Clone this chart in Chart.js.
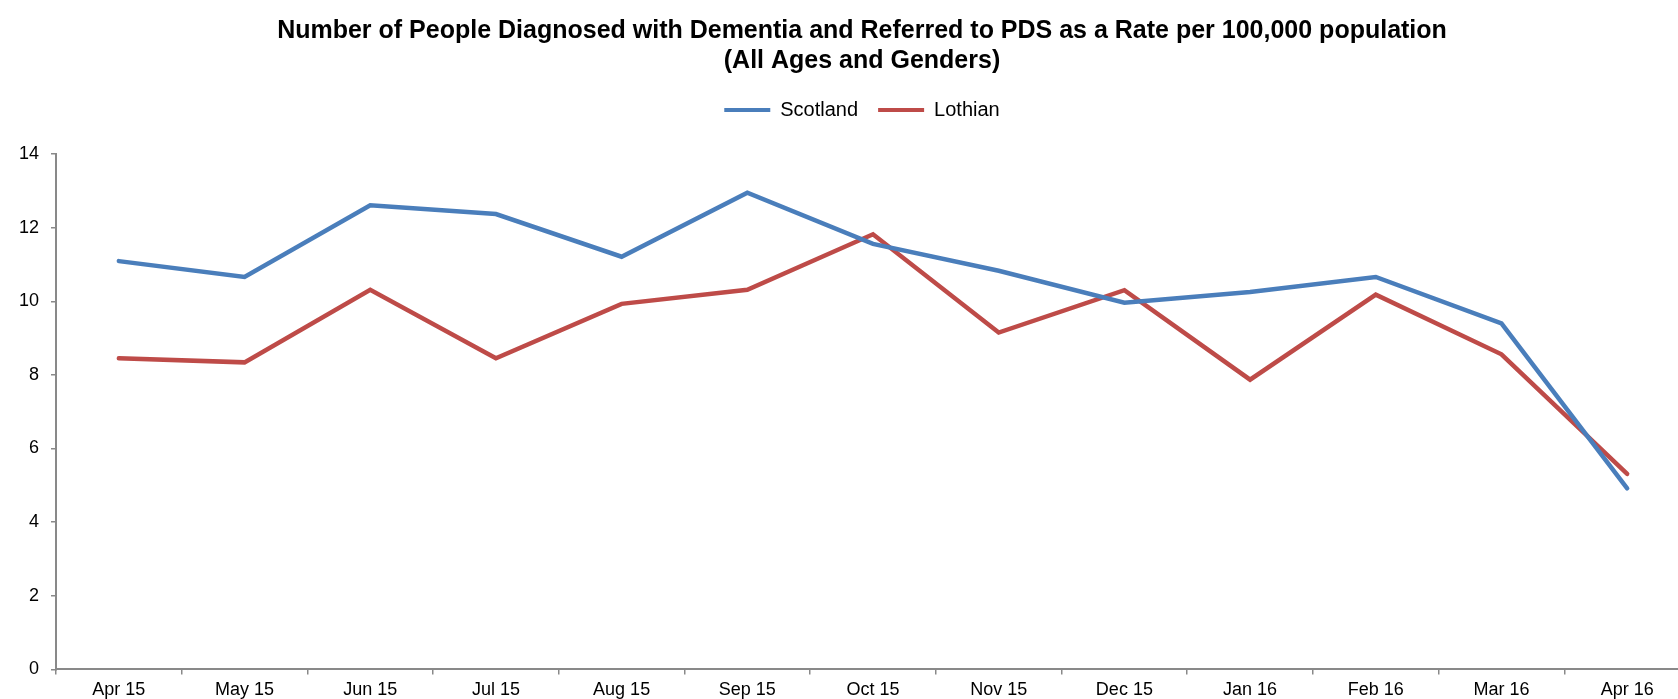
<!DOCTYPE html>
<html>
<head>
<meta charset="utf-8">
<script src="https://cdn.jsdelivr.net/npm/chart.js@4"></script>
<style>
  html, body { margin: 0; padding: 0; background: #fff; overflow: hidden; }
  #wrap { width: 1724px; height: 712px; }
</style>
</head>
<body>
<div id="wrap"><canvas id="pdsChart" width="1724" height="712"></canvas></div>
<script>
// ── Data
const months   = ['Apr 15', 'May 15', 'Jun 15', 'Jul 15', 'Aug 15', 'Sep 15', 'Oct 15',
                  'Nov 15', 'Dec 15', 'Jan 16', 'Feb 16', 'Mar 16', 'Apr 16'];
const scotland = [11.09, 10.66, 12.61, 12.37, 11.21, 12.95, 11.56, 10.83, 9.96, 10.25, 10.66, 9.40, 4.92];
const lothian  = [8.45, 8.34, 10.31, 8.45, 9.93, 10.31, 11.82, 9.15, 10.30, 7.87, 10.18, 8.56, 5.31];

const titleLines = [
    'Number of People Diagnosed with Dementia and Referred to PDS as a Rate per 100,000 population',
    '(All Ages and Genders)'
];

// ── Styles
const BLUE  = '#4a7ebb';
const RED   = '#be4b48';
const AXIS  = '#898989';
const FONT  = 'Liberation Sans, Arial, sans-serif';

function series(label, data, color) {
    return {
        label,
        data,
        borderColor:     color,
        backgroundColor: color,
        borderWidth:     4.5,
        borderCapStyle:  'round',
        pointRadius:     0,
        tension:         0,
        fill:            false
    };
}

// extra room under the legend, before the plot starts
const legendGap = {
    id: 'legendGap',
    beforeLayout(chart) {
        const legend = chart.legend;
        if (!legend || legend._gapPatched) return;
        const fit = legend.fit;
        legend.fit = function () {
            fit.call(this);
            this.height += 24;
        };
        legend._gapPatched = true;
    }
};

new Chart(document.getElementById('pdsChart'), {
    type: 'line',
    data: {
        labels: months,
        datasets: [
            series('Scotland', scotland, BLUE),
            series('Lothian',  lothian,  RED)
        ]
    },
    plugins: [legendGap],
    options: {
        responsive: false,
        animation:  false,
        layout: { padding: { top: 0, bottom: 6, left: 0, right: 0 } },
        plugins: {
            title: {
                display: true,
                text:    titleLines,
                color:   '#000',
                font:    { family: FONT, size: 25, weight: 'bold', lineHeight: 1.2 },
                padding: { top: 16, bottom: 4 }
            },
            legend: {
                position: 'top',
                labels: {
                    color:     '#000',
                    font:      { family: FONT, size: 20 },
                    boxWidth:  46,
                    boxHeight: 4,
                    padding:   20,
                    generateLabels: (chart) => chart.data.datasets.map((ds, i) => ({
                        text:         ds.label,
                        fillStyle:    ds.borderColor,
                        strokeStyle:  ds.borderColor,
                        lineWidth:    0,
                        datasetIndex: i,
                        hidden:       !chart.isDatasetVisible(i)
                    }))
                }
            },
            tooltip: { enabled: false }
        },
        scales: {
            x: {
                offset: true,
                grid:   { offset: true, drawOnChartArea: false, drawTicks: true, tickLength: 5, color: AXIS, lineWidth: 1.5 },
                border: { display: true, color: AXIS, width: 2 },
                ticks:  { color: '#000', font: { family: FONT, size: 18 }, padding: 5, maxRotation: 0, autoSkip: false }
            },
            y: {
                min: 0,
                max: 14,
                grid:   { drawOnChartArea: false, drawTicks: true, tickLength: 5, color: AXIS, lineWidth: 1.5 },
                border: { display: true, color: AXIS, width: 2 },
                ticks:  { stepSize: 2, color: '#000', font: { family: FONT, size: 18 }, padding: 12 },
                afterFit: (s) => { s.width = 56; }
            },
            // empty spacer on the right so the plot runs past the window edge like the reference
            yPad: {
                position: 'right',
                display:  true,
                grid:     { display: false },
                border:   { display: false },
                ticks:    { display: false },
                afterFit: (s) => { s.width = 34; }
            }
        }
    }
});
</script>
</body>
</html>
